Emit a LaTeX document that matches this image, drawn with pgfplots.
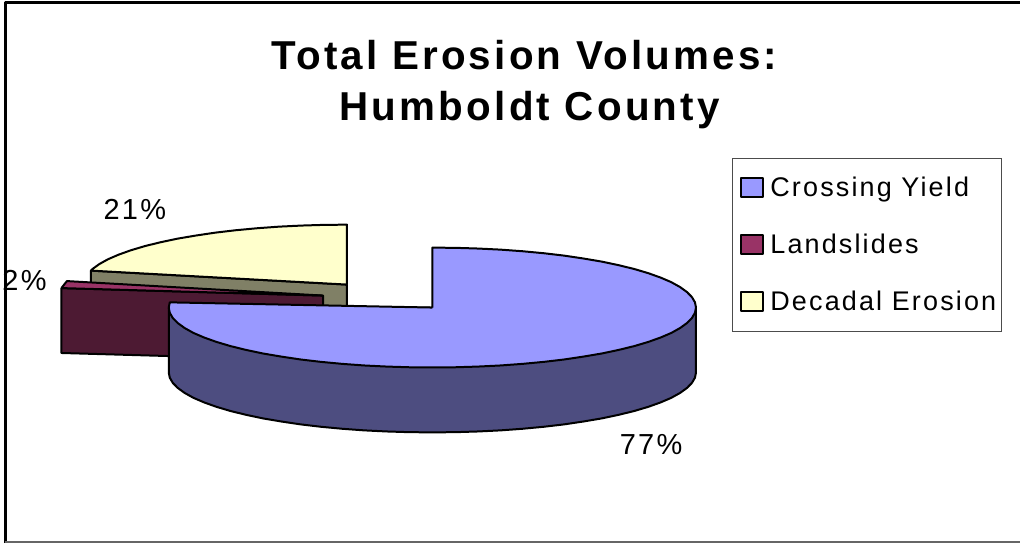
\documentclass[border=0pt]{standalone}
\usepackage{fontspec}
\setmainfont[LetterSpace=8]{Liberation Sans}
\usepackage{pgfplots}
\pgfplotsset{compat=1.18}
\definecolor{lav}{HTML}{9999FF}
\definecolor{lavside}{HTML}{4D4D80}
\definecolor{pink}{HTML}{993366}
\definecolor{pinkside}{HTML}{4D1A33}
\definecolor{cream}{HTML}{FFFFCC}
\definecolor{creamside}{HTML}{808066}
\newcommand{\lab}{\fontsize{29}{34}\selectfont}
\begin{document}
\begin{tikzpicture}
\begin{axis}[
  scale only axis, width=1021pt, height=544pt,
  xmin=0, xmax=1021, ymin=0, ymax=544, y dir=reverse,
  axis lines=none, clip=false,
  every axis plot/.append style={line join=round, line width=2pt, draw=black, forget plot},
  legend image code/.code={\path (0pt,0pt); \draw[line width=2pt,draw=black,#1] (4pt,-9.5pt) rectangle (26pt,9.5pt);},
  legend cell align=left,
  legend style={at={(axis cs:733,158)}, anchor=north west, draw=black!70, line width=1pt,
    font=\fontsize{27}{31}\selectfont, row sep=32pt, inner xsep=3.5pt, inner ysep=17pt,
    /tikz/column 1/.style={column sep=4.5pt}},
]
% keeps the page at the full axis size
\addplot[draw=none, line width=0pt] coordinates {(0,0) (1021,544)};
% frame
\addplot[line width=3pt] coordinates {(5.5,544) (5.5,3) (1021,3)};
\addplot[line width=1.5pt, draw=black!60] coordinates {(5.5,543) (1021,543)};

% decadal erosion, wall then top
\addplot[fill=creamside] coordinates {(91,271) (347.5,285) (347.5,350) (91,336) (91,271)};
\addplot[fill=cream] coordinates {(347.5,285) (347.5,225) (324.5,225.2) (301.7,225.9) (279.2,227) (257.2,228.6) (235.9,230.6) (215.5,233) (196.1,235.9) (177.8,239) (160.8,242.6) (145.3,246.4) (131.2,250.6) (118.9,255) (108.2,259.6) (99.4,264.5) (92.5,269.5) (91,271) (347.5,285)};

% landslides
\addplot[fill=pinkside] coordinates {(61.5,288.5) (323.5,296) (323.5,361) (61.5,353.5) (61.5,288.5)};
\addplot[fill=pink] coordinates {(61.5,288.5) (67,281.5) (323.5,296) (61.5,288.5)};

% crossing yield, side then top
\addplot[fill=lavside] coordinates {(697,308) (697,373) (696,378.2) (693,383.4) (688,388.5) (681.1,393.5) (672.3,398.4) (661.6,403) (649.3,407.4) (635.2,411.6) (619.7,415.4) (602.7,419) (584.4,422.1) (565,425) (544.6,427.4) (523.3,429.4) (501.3,431) (478.8,432.1) (456,432.8) (433,433) (410,432.8) (387.2,432.1) (364.7,431) (342.7,429.4) (321.4,427.4) (301,425) (281.6,422.1) (263.3,419) (246.3,415.4) (230.8,411.6) (216.7,407.4) (204.4,403) (193.7,398.4) (184.9,393.5) (178,388.5) (173,383.4) (170,378.2) (169,373) (169,308) (697,308)};
\addplot[fill=lav] coordinates {(433,308) (433,248) (456,248.2) (478.8,248.9) (501.3,250) (523.3,251.6) (544.6,253.6) (565,256) (584.4,258.9) (602.7,262) (619.7,265.6) (635.2,269.4) (649.3,273.6) (661.6,278) (672.3,282.6) (681.1,287.5) (688,292.5) (693,297.6) (696,302.8) (697,308) (696,313.2) (693,318.4) (688,323.5) (681.1,328.5) (672.3,333.4) (661.6,338) (649.3,342.4) (635.2,346.6) (619.7,350.4) (602.7,354) (584.4,357.1) (565,360) (544.6,362.4) (523.3,364.4) (501.3,366) (478.8,367.1) (456,367.8) (433,368) (410,367.8) (387.2,367.1) (364.7,366) (342.7,364.4) (321.4,362.4) (301,360) (281.6,357.1) (263.3,354) (246.3,350.4) (230.8,346.6) (216.7,342.4) (204.4,338) (193.7,333.4) (184.9,328.5) (178,323.5) (173,318.4) (170,313.2) (169,308) (170,302.8) (433,308)};

\addlegendimage{fill=lav}
\addlegendentry{Crossing Yield}
\addlegendimage{fill=pink}
\addlegendentry{Landslides}
\addlegendimage{fill=cream}
\addlegendentry{Decadal Erosion}

\node[anchor=base, inner sep=0pt, font=\bfseries\fontsize{40.4}{46}\selectfont] at (axis cs:525,70) {Total Erosion Volumes:};
\node[anchor=base, inner sep=0pt, font=\bfseries\fontsize{40.4}{46}\selectfont] at (axis cs:530.5,121) {Humboldt County};
\node[anchor=base, inner sep=0pt, font=\lab] at (axis cs:135,220) {21\%};
\node[anchor=base, inner sep=0pt, font=\lab] at (axis cs:24.5,291) {2\%};
\node[anchor=base, inner sep=0pt, font=\lab] at (axis cs:652,455) {77\%};
\end{axis}
\end{tikzpicture}
\end{document}
